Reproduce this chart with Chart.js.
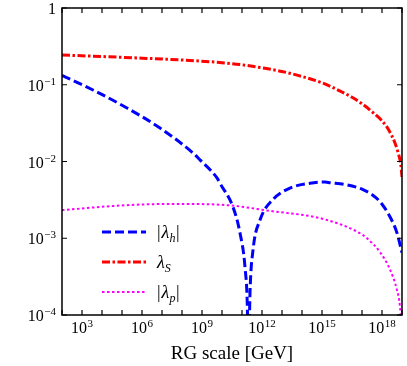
<!DOCTYPE html>
<html>
<head>
<meta charset="utf-8">
<script src="https://cdn.jsdelivr.net/npm/chart.js@4/dist/chart.umd.min.js"></script>
<style>
  html, body { margin: 0; padding: 0; background: #fff; }
</style>
</head>
<body>
<canvas id="rgChart" width="407" height="366"></canvas>
<script>
// log10 of the RG scale in GeV, and coupling values
const lamHExp = [2.0, 2.15, 3.55, 5.25, 6.9, 8.55, 8.9, 9.75, 9.9, 10.55, 10.9, 11.15, 11.27, 11.32,
                 11.4, 11.55, 11.9, 12.55, 13.4, 14.4, 15.15, 15.4, 16.2, 17.05, 17.5, 17.9, 18.4, 18.75, 19.0];
const lamHVal = [0.132, 0.127, 0.0855, 0.0498, 0.0273, 0.0129, 0.0105, 0.0061, 0.0052, 0.00255, 0.00117, 0.00042, 0.00012, 0.00002,
                 0.000194, 0.0007, 0.00173, 0.0032, 0.0045, 0.0052, 0.0054, 0.0053, 0.0050, 0.0043, 0.0037, 0.003, 0.0019, 0.00117, 0.00065];

const lamSExp = [2.0, 4.0, 6.0, 8.0, 10.0, 11.0, 12.0, 13.0, 14.0, 15.0, 15.5, 16.0, 16.5, 17.0, 17.5,
                 18.0, 18.25, 18.5, 18.65, 18.8, 18.9, 18.95, 19.0];
const lamSVal = [0.244, 0.233, 0.222, 0.21, 0.194, 0.182, 0.166, 0.149, 0.128, 0.106, 0.093, 0.0805, 0.0686, 0.0566, 0.0445,
                 0.0339, 0.028, 0.0214, 0.0174, 0.0132, 0.0105, 0.0087, 0.0063];

const lamPExp = [2.0, 2.15, 5.25, 7.75, 10.25, 12.25, 15.25, 17.05, 17.25, 17.9, 18.4, 18.75, 18.9, 19.0];
const lamPVal = [0.00232, 0.00234, 0.0027, 0.0028, 0.0027, 0.0023, 0.00173, 0.0011, 0.001, 0.00066, 0.00039, 0.00021, 0.000127, 0.00005];

const seriesNames = ['|λ_h|', 'λ_S', '|λ_p|'];
const xTickExps = [2, 3, 4, 5, 6, 7, 8, 9, 10, 11, 12, 13, 14, 15, 16, 17, 18, 19];
const xLabelExps = [3, 6, 9, 12, 15, 18];
const yTickExps = [-4, -3, -2, -1, 0];
const xTitle = 'RG scale [GeV]';

const SERIF = '"Liberation Serif", "DejaVu Serif", serif';

function toPoints(exps, vals) {
  return exps.map((e, i) => ({ x: Math.pow(10, e), y: vals[i] }));
}

// "10" with a raised exponent, like the TeX labels
function drawPow(ctx, exp, x, y, align) {
  ctx.textBaseline = 'alphabetic';
  ctx.textAlign = 'left';
  if (exp === 0) {
    ctx.font = '16px ' + SERIF;
    const w = ctx.measureText('1').width;
    ctx.fillText('1', align === 'right' ? x - w : x - w / 2, y);
    return;
  }
  const sup = exp < 0 ? '\u2212' + (-exp) : String(exp);
  ctx.font = '16px ' + SERIF;
  const wBase = ctx.measureText('10').width;
  ctx.font = '11px ' + SERIF;
  const wSup = ctx.measureText(sup).width;
  const total = wBase + wSup + 0.5;
  const start = align === 'right' ? x - total : x - total / 2;
  ctx.font = '16px ' + SERIF;
  ctx.fillText('10', start, y);
  ctx.font = '11px ' + SERIF;
  ctx.fillText(sup, start + wBase + 0.5, y - 6);
}

// text like |λ_h| : bars upright, greek + subscript italic
function drawSymbol(ctx, name, x, y) {
  ctx.textBaseline = 'alphabetic';
  ctx.textAlign = 'left';
  let cx = x;
  let i = 0;
  while (i < name.length) {
    const ch = name[i];
    if (ch === '_') {
      ctx.font = 'italic 12px ' + SERIF;
      const s = name[i + 1];
      ctx.fillText(s, cx, y + 4);
      cx += ctx.measureText(s).width + 0.5;
      i += 2;
      continue;
    }
    ctx.font = (ch === '|' ? '' : 'italic ') + '18px ' + SERIF;
    ctx.fillText(ch, cx, y);
    cx += ctx.measureText(ch).width + (ch === '|' ? 1 : 0);
    i++;
  }
}

const framePlugin = {
  id: 'frameTicks',
  afterDraw(chart) {
    const { ctx, chartArea: a, scales: { x, y } } = chart;
    ctx.save();
    ctx.strokeStyle = '#000';
    ctx.fillStyle = '#000';
    ctx.lineWidth = 1.5;
    ctx.strokeRect(a.left, a.top, a.right - a.left, a.bottom - a.top);

    ctx.lineWidth = 1.2;
    ctx.beginPath();
    xTickExps.forEach(e => {
      const px = x.getPixelForValue(Math.pow(10, e));
      ctx.moveTo(px, a.bottom); ctx.lineTo(px, a.bottom - 5);
      ctx.moveTo(px, a.top); ctx.lineTo(px, a.top + 5);
    });
    yTickExps.forEach(e => {
      const py = y.getPixelForValue(Math.pow(10, e));
      ctx.moveTo(a.left, py); ctx.lineTo(a.left + 5, py);
      ctx.moveTo(a.right, py); ctx.lineTo(a.right - 5, py);
    });
    ctx.stroke();

    xLabelExps.forEach(e => {
      const px = x.getPixelForValue(Math.pow(10, e));
      drawPow(ctx, e, px, a.bottom + 18, 'center');
    });
    yTickExps.forEach(e => {
      const py = y.getPixelForValue(Math.pow(10, e));
      drawPow(ctx, e, a.left - 6, py + 6, 'right');
    });

    // legend inside the plot, lower left
    chart.data.datasets.forEach((ds, i) => {
      const ly = 232 + i * 30;
      ctx.save();
      ctx.strokeStyle = ds.borderColor;
      ctx.lineWidth = ds.borderWidth;
      ctx.setLineDash(ds.borderDash);
      ctx.beginPath();
      ctx.moveTo(102, ly);
      ctx.lineTo(146, ly);
      ctx.stroke();
      ctx.restore();
      drawSymbol(ctx, seriesNames[i], 157, ly + 6);
    });
    ctx.restore();
  }
};

new Chart(document.getElementById('rgChart'), {
  type: 'line',
  data: {
    datasets: [
      {
        label: seriesNames[0],
        data: toPoints(lamHExp, lamHVal),
        borderColor: '#0000ff',
        borderWidth: 3,
        borderDash: [9, 4]
      },
      {
        label: seriesNames[1],
        data: toPoints(lamSExp, lamSVal),
        borderColor: '#ff0000',
        borderWidth: 3,
        borderDash: [8, 2.5, 2.5, 2.5]
      },
      {
        label: seriesNames[2],
        data: toPoints(lamPExp, lamPVal),
        borderColor: '#ff00ff',
        borderWidth: 2,
        borderDash: [2.5, 2.5]
      }
    ]
  },
  options: {
    responsive: false,
    animation: false,
    events: [],
    layout: { padding: { left: 0, right: 5, top: 8, bottom: 0 } },
    elements: {
      point: { radius: 0 },
      line: { cubicInterpolationMode: 'monotone', fill: false }
    },
    plugins: {
      legend: { display: false },
      tooltip: { enabled: false }
    },
    scales: {
      x: {
        type: 'logarithmic',
        min: 1e2,
        max: 1e19,
        grid: { display: false },
        border: { display: false },
        ticks: { display: false },
        title: {
          display: true,
          text: xTitle,
          color: '#000',
          font: { family: SERIF, size: 19 },
          padding: { top: 0, bottom: 1 }
        },
        afterFit(s) { s.height = 51; }
      },
      y: {
        type: 'logarithmic',
        min: 1e-4,
        max: 1,
        grid: { display: false },
        border: { display: false },
        ticks: { display: false },
        afterFit(s) { s.width = 62; }
      }
    }
  },
  plugins: [framePlugin]
});
</script>
</body>
</html>
